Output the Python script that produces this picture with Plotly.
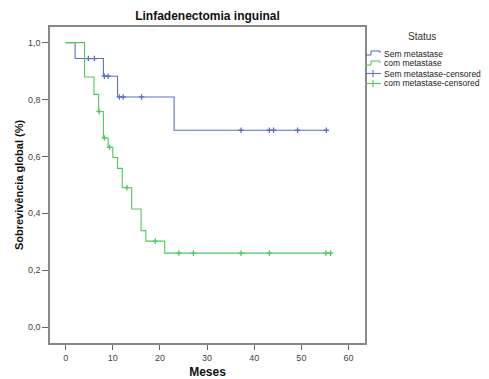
import plotly.graph_objects as go

# ---- data ----
sem_event_times = [0, 2, 8, 11, 23]
sem_survival = [1.0, 0.944, 0.882, 0.809, 0.692]
sem_censored = [4.8, 6.1, 8.2, 9.0, 11.4, 12.2, 16.1, 37.2, 43.2, 44.1, 49.2, 55.3]

com_event_times = [0, 4, 6, 7, 8, 9, 10, 11, 12, 14, 16, 17, 21]
com_survival = [1.0, 0.879, 0.818, 0.758, 0.665, 0.632, 0.596, 0.558, 0.490, 0.415, 0.339, 0.302, 0.260]
com_censored = [7.1, 8.2, 9.3, 13.0, 19.0, 24.0, 27.1, 37.2, 43.2, 55.2, 56.2]

x_ticks = [0, 10, 20, 30, 40, 50, 60]
y_ticks = [0.0, 0.2, 0.4, 0.6, 0.8, 1.0]

BLUE = "#5c70c6"
GREEN = "#52c760"


def surv_at(times, surv, t):
    val = surv[0]
    for ti, si in zip(times, surv):
        if ti <= t:
            val = si
    return val


def step_xy(times, surv, cens):
    end = max(max(cens), max(times))
    return list(times) + [end], list(surv) + [surv[-1]]


fig = go.Figure()

for times, surv, cens, col in [
    (sem_event_times, sem_survival, sem_censored, BLUE),
    (com_event_times, com_survival, com_censored, GREEN),
]:
    sx, sy = step_xy(times, surv, cens)
    fig.add_trace(go.Scatter(x=sx, y=sy, mode="lines", line=dict(color=col, width=1.1, shape="hv"),
                             showlegend=False, hoverinfo="skip"))
    fig.add_trace(go.Scatter(x=cens, y=[surv_at(times, surv, t) for t in cens], mode="markers",
                             marker=dict(symbol="cross-thin-open", size=4, color=col,
                                         line=dict(color=col, width=1.3)),
                             showlegend=False, hoverinfo="skip"))

# plot area in pixels: x 50..365, y 27..343
L, R, T, B = 50, 365, 27, 343


def px(x):
    return (x - L) / (R - L)


def py(y):
    return (B - y) / (B - T)


shapes = []
annotations = []

annotations.append(dict(text="Status", x=px(422), y=py(37), xref="paper", yref="paper",
                        showarrow=False, xanchor="center", yanchor="middle",
                        font=dict(size=10, color="#333")))

legend_items = [
    ("Sem metastase", BLUE, "step"),
    ("com metastase", GREEN, "step"),
    ("Sem metastase-censored", BLUE, "cens"),
    ("com metastase-censored", GREEN, "cens"),
]
row_y = [53.5, 63.5, 73.5, 83.5]
for (label, col, kind), yy in zip(legend_items, row_y):
    if kind == "step":
        segs = [(365, yy + 1.5, 371, yy + 1.5), (371, yy + 1.5, 371, yy - 2.5),
                (371, yy - 2.5, 380, yy - 2.5), (380, yy - 2.5, 380, yy - 0.5)]
    else:
        segs = [(365, yy, 381, yy), (373, yy - 3.5, 373, yy + 3.5)]
    for x0, y0, x1, y1 in segs:
        shapes.append(dict(type="line", xref="paper", yref="paper", x0=px(x0), y0=py(y0),
                           x1=px(x1), y1=py(y1), line=dict(color=col, width=1.1)))
    annotations.append(dict(text=label, x=px(382), y=py(yy), xref="paper", yref="paper",
                            showarrow=False, xanchor="left", yanchor="middle",
                            font=dict(size=8.5, color="#222")))

fig.update_layout(
    width=489, height=379,
    margin=dict(l=L, r=489 - R, t=T, b=379 - B),
    paper_bgcolor="white", plot_bgcolor="white",
    separators=",.",
    font=dict(family="Liberation Sans, Arial, sans-serif", color="#333"),
    title=dict(text="<b>Linfadenectomia inguinal</b>", x=0.5, xref="paper", xanchor="center",
               y=1 - 15.5 / 379, yref="container", yanchor="middle",
               font=dict(size=12, color="#111")),
    shapes=shapes,
    annotations=annotations,
)

fig.update_xaxes(range=[-3.33, 63.5], tickvals=x_ticks, ticks="outside", ticklen=5, tickwidth=1,
                 tickcolor="#666", showline=True, linecolor="#888", linewidth=1.5, mirror=True,
                 showgrid=False, zeroline=False, tickfont=dict(size=9, color="#444"),
                 title=dict(text="<b>Meses</b>", font=dict(size=12, color="#111"), standoff=11),
                 automargin=False)
fig.update_yaxes(range=[-0.056, 1.055], tickvals=y_ticks, tickformat=".1f", ticks="outside", ticklen=6,
                 tickwidth=1, tickcolor="#666", showline=True, linecolor="#888", linewidth=1.5,
                 mirror=True, showgrid=False, zeroline=False, tickfont=dict(size=9, color="#444"),
                 title=dict(text="<b>Sobrevivência global (%)</b>", font=dict(size=11, color="#111"),
                            standoff=2),
                 automargin=False)

fig.write_html("out.html", config={"displayModeBar": False},
               post_script="document.body.style.margin='0';document.body.style.overflow='hidden';")
